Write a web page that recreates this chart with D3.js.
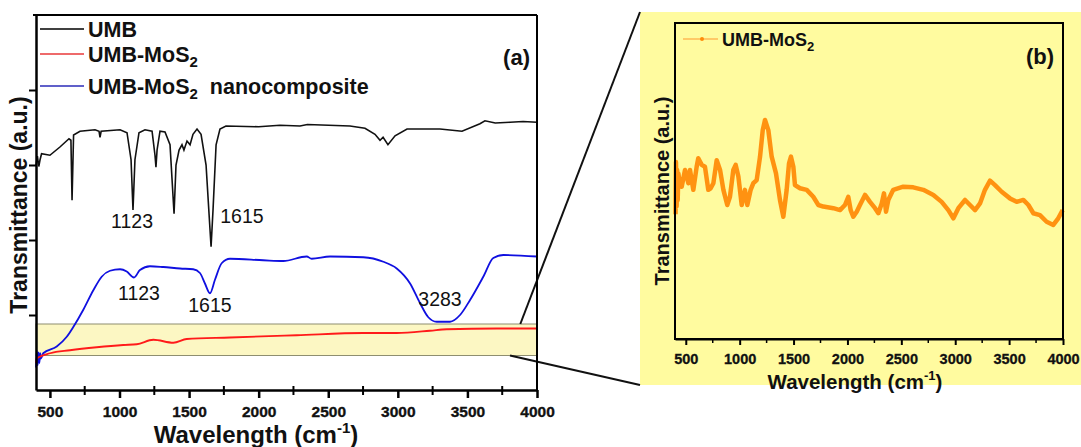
<!DOCTYPE html>
<html>
<head>
<meta charset="utf-8">
<script src="https://cdn.jsdelivr.net/npm/d3@7"></script>
<style>
  body { margin: 0; background: #fff; }
  svg text { font-family: "Liberation Sans", Arial, sans-serif; }
</style>
</head>
<body>
<svg id="chart" width="1081" height="447"></svg>
<script>
// ---- data ----
// panel (a): wavenumber (cm-1) and transmittance (a.u.)
var umbWave = [400, 410, 420, 429, 440, 500, 572, 637, 651, 659, 670, 716, 824, 853, 860, 868, 1004, 1054, 1083, 1097, 1111, 1140, 1183, 1234, 1255, 1262, 1270, 1291, 1327, 1363, 1392, 1406, 1428, 1449, 1463, 1485, 1507, 1528, 1557, 1586, 1622, 1644, 1658, 1672, 1694, 1722, 1765, 2000, 2153, 2297, 2350, 2656, 2764, 2836, 2872, 2894, 2929, 2980, 3066, 3303, 3461, 3590, 3626, 3700, 3806, 3900, 4000];
var umbT = [2.99, 3.12, 2.98, 3.07, 3.15, 3.13, 3.24, 3.35, 3.33, 2.53, 3.40, 3.45, 3.47, 3.45, 3.37, 3.45, 3.47, 3.43, 3.07, 2.40, 3.07, 3.43, 3.47, 3.45, 3.13, 2.97, 3.20, 3.45, 3.44, 3.27, 2.35, 3.00, 3.20, 3.27, 3.20, 3.32, 3.27, 3.41, 3.48, 3.41, 3.00, 2.33, 1.91, 2.40, 3.27, 3.48, 3.52, 3.51, 3.53, 3.52, 3.54, 3.52, 3.49, 3.41, 3.33, 3.37, 3.27, 3.39, 3.48, 3.48, 3.45, 3.55, 3.59, 3.56, 3.57, 3.58, 3.57];

var mos2Wave = [400, 405, 501, 644, 836, 1027, 1124, 1243, 1387, 1483, 1794, 2273, 2752, 2992, 3231, 3351, 3711, 4000];
var mos2T = [0.36, 0.42, 0.49, 0.53, 0.57, 0.60, 0.61, 0.67, 0.63, 0.68, 0.70, 0.73, 0.76, 0.76, 0.79, 0.81, 0.82, 0.82];

var nanoWave = [400, 406, 412, 418, 424, 430, 436, 452, 549, 621, 668, 740, 812, 872, 932, 1004, 1052, 1104, 1147, 1219, 1315, 1435, 1530, 1578, 1614, 1650, 1686, 1734, 1794, 2033, 2177, 2345, 2381, 2513, 2752, 2896, 2992, 3088, 3159, 3219, 3279, 3375, 3447, 3519, 3614, 3686, 3758, 4000];
var nanoT = [0.30, 0.52, 0.33, 0.50, 0.36, 0.49, 0.42, 0.49, 0.58, 0.71, 0.84, 1.07, 1.33, 1.51, 1.59, 1.61, 1.58, 1.50, 1.60, 1.65, 1.64, 1.62, 1.61, 1.56, 1.42, 1.29, 1.47, 1.69, 1.75, 1.73, 1.72, 1.78, 1.75, 1.78, 1.77, 1.71, 1.62, 1.42, 1.16, 0.97, 0.91, 0.91, 1.00, 1.20, 1.51, 1.76, 1.80, 1.78];

// panel (b): UMB-MoS2 zoomed
var zoomWave = [405, 409, 415, 420, 425, 431, 440, 462, 493, 524, 539, 570, 601, 616, 648, 678, 709, 731, 756, 787, 818, 849, 885, 910, 941, 963, 988, 1019, 1049, 1071, 1102, 1127, 1158, 1189, 1214, 1235, 1266, 1297, 1337, 1374, 1405, 1436, 1458, 1476, 1498, 1513, 1560, 1622, 1683, 1730, 1776, 1869, 1931, 1977, 2008, 2030, 2054, 2086, 2116, 2163, 2209, 2256, 2287, 2318, 2339, 2358, 2379, 2425, 2518, 2611, 2704, 2797, 2874, 2936, 2983, 3029, 3091, 3137, 3184, 3230, 3276, 3323, 3369, 3431, 3508, 3570, 3632, 3679, 3725, 3786, 3848, 3910, 3956, 3997];
var zoomT = [3.95, 5.60, 4.20, 5.35, 4.40, 5.24, 5.03, 4.82, 5.35, 4.93, 5.35, 4.72, 5.45, 5.72, 5.51, 5.45, 4.72, 4.77, 4.93, 5.66, 5.35, 4.72, 4.24, 4.50, 5.35, 5.51, 5.14, 4.24, 4.72, 4.24, 4.72, 4.93, 5.03, 5.77, 6.61, 6.93, 6.61, 5.77, 5.24, 4.40, 3.87, 4.72, 5.56, 5.77, 5.45, 4.87, 4.77, 4.72, 4.50, 4.24, 4.19, 4.14, 4.08, 4.24, 4.50, 4.08, 3.87, 4.03, 4.24, 4.56, 4.34, 4.14, 3.98, 4.29, 4.61, 4.03, 4.40, 4.72, 4.82, 4.80, 4.72, 4.56, 4.34, 4.08, 3.82, 4.14, 4.40, 4.24, 4.08, 4.29, 4.72, 5.01, 4.87, 4.66, 4.45, 4.34, 4.40, 4.24, 3.98, 3.92, 3.71, 3.61, 3.82, 4.08];

var xTickValues = [500, 1000, 1500, 2000, 2500, 3000, 3500, 4000];
var xMinorValues = [750, 1250, 1750, 2250, 2750, 3250, 3750];
var yTickValues = [1, 2, 3, 4];

var legendA = [
    { name: "UMB", sub: "", tail: "", color: "#000000" },
    { name: "UMB-MoS", sub: "2", tail: "", color: "#e8383a" },
    { name: "UMB-MoS", sub: "2", tail: "\u00a0\u00a0nanocomposite", color: "#2b2bb8" }
];

var peakLabels = [
    { text: "1123", w: 1090, t: 2.16 },
    { text: "1615", w: 1880, t: 2.23 },
    { text: "1123", w: 1140, t: 1.20 },
    { text: "1615", w: 1650, t: 1.04 },
    { text: "3283", w: 3303, t: 1.12 }
];

// highlighted band on panel (a) shown enlarged in panel (b)
var bandTop = 0.88, bandBottom = 0.46;

// ---- layout ----
var svg = d3.select("#chart");

var a = { left: 36, right: 537, top: 15, bottom: 390 };
var b = { left: 675, right: 1063, top: 23, bottom: 339 };
var inset = { left: 640, right: 1081, top: 12, bottom: 385 };

var xA = d3.scaleLinear().domain([400, 4000]).range([a.left, a.right]);
var yA = d3.scaleLinear().domain([0, 5]).range([a.bottom, a.top]);
var xB = d3.scaleLinear().domain([400, 4000]).range([b.left, b.right]);
var yB = d3.scaleLinear().domain([0, 10]).range([b.bottom, b.top]);

function pairs(ws, ts) { return ws.map(function (w, i) { return [w, ts[i]]; }); }

// inset background
svg.append("rect")
    .attr("x", inset.left).attr("y", inset.top)
    .attr("width", inset.right - inset.left).attr("height", inset.bottom - inset.top)
    .attr("fill", "#fffb9f");

// ---- panel (a) ----
svg.append("rect")
    .attr("x", a.left).attr("y", yA(bandTop))
    .attr("width", a.right - a.left).attr("height", yA(bandBottom) - yA(bandTop))
    .attr("fill", "#fcf7c3")
    .attr("stroke", "#8e8e70")
    .attr("stroke-width", 1);

// connector lines
svg.append("line")
    .attr("x1", xA(3880)).attr("y1", yA(bandTop))
    .attr("x2", inset.left).attr("y2", inset.top)
    .attr("stroke", "#111").attr("stroke-width", 2);
svg.append("line")
    .attr("x1", xA(3806)).attr("y1", yA(bandBottom))
    .attr("x2", inset.left).attr("y2", inset.bottom)
    .attr("stroke", "#111").attr("stroke-width", 2);

var lineA = d3.line().x(function (d) { return xA(d[0]); }).y(function (d) { return yA(d[1]); });
var smoothA = d3.line().curve(d3.curveMonotoneX)
    .x(function (d) { return xA(d[0]); }).y(function (d) { return yA(d[1]); });

svg.append("path").datum(pairs(umbWave, umbT))
    .attr("d", lineA).attr("fill", "none").attr("stroke", "#111").attr("stroke-width", 1.6);
svg.append("path").datum(pairs(nanoWave, nanoT))
    .attr("d", smoothA).attr("fill", "none").attr("stroke", "#1010e0").attr("stroke-width", 1.8);
svg.append("path").datum(pairs(mos2Wave, mos2T))
    .attr("d", smoothA).attr("fill", "none").attr("stroke", "#ff1a1a").attr("stroke-width", 1.8);

// frame
svg.append("line").attr("x1", a.left - 3).attr("x2", a.right).attr("y1", a.top).attr("y2", a.top)
    .attr("stroke", "#000").attr("stroke-width", 2);
svg.append("line").attr("x1", a.right).attr("x2", a.right).attr("y1", a.top).attr("y2", a.bottom)
    .attr("stroke", "#000").attr("stroke-width", 2);

// tick labels drawn by hand-styled axis; font set on the axis group itself
var xAxisA = svg.append("g")
    .attr("transform", "translate(0," + a.bottom + ")")
    .call(d3.axisBottom(xA).tickValues(xTickValues).tickSize(8).tickSizeOuter(0).tickFormat(d3.format("d")));
xAxisA.attr("font-family", "Liberation Sans, Arial, sans-serif").attr("font-size", 15.5).attr("font-weight", "bold");
xAxisA.select(".domain").attr("stroke-width", 2.5);
xAxisA.selectAll(".tick line").attr("stroke-width", 2.5);
xAxisA.selectAll(".tick text")
    .attr("fill", "#111").attr("stroke", "#111").attr("stroke-width", 0.35).attr("dy", "1.05em");
svg.append("g").selectAll("line").data(xMinorValues).enter().append("line")
    .attr("x1", xA).attr("x2", xA)
    .attr("y1", a.bottom - 4).attr("y2", a.bottom + 5)
    .attr("stroke", "#000").attr("stroke-width", 2);

var yAxisA = svg.append("g")
    .attr("transform", "translate(" + a.left + ",0)")
    .call(d3.axisLeft(yA).tickValues(yTickValues).tickSize(7).tickSizeOuter(0).tickFormat(""));
yAxisA.select(".domain").attr("stroke-width", 2.5);
yAxisA.selectAll(".tick line").attr("stroke-width", 2);

// axis titles (a)
var tA = svg.append("text")
    .attr("x", 256).attr("y", 443)
    .attr("text-anchor", "middle")
    .attr("font-size", 24).attr("font-weight", "bold").attr("fill", "#111")
    .text("Wavelength (cm");
tA.append("tspan").attr("font-size", 15).attr("dy", -10).text("-1");
tA.append("tspan").attr("dy", 10).text(")");

svg.append("text")
    .attr("transform", "translate(27,205) rotate(-90)")
    .attr("text-anchor", "middle")
    .attr("font-size", 23).attr("font-weight", "bold").attr("fill", "#111")
    .text("Transmittance (a.u.)");

// legend (a)
var legA = svg.append("g").selectAll("g").data(legendA).enter().append("g")
    .attr("transform", function (d, i) { return "translate(0," + [29, 54, 86][i] + ")"; });
legA.append("line")
    .attr("x1", 40).attr("x2", 84).attr("y1", 0).attr("y2", 0)
    .attr("stroke", function (d) { return d.color; }).attr("stroke-width", 1.5);
var legAText = legA.append("text")
    .attr("x", 88).attr("y", 8)
    .attr("font-size", 21.5).attr("font-weight", "bold").attr("fill", "#111")
    .text(function (d) { return d.name; });
legAText.append("tspan").attr("font-size", 15).attr("dy", 5).text(function (d) { return d.sub; });
legAText.append("tspan").attr("dy", -5).text(function (d) { return d.tail; });

svg.append("text")
    .attr("x", 530).attr("y", 65).attr("text-anchor", "end")
    .attr("font-size", 22).attr("font-weight", "bold").attr("fill", "#111")
    .text("(a)");

svg.append("g").selectAll("text").data(peakLabels).enter().append("text")
    .attr("x", function (d) { return xA(d.w); })
    .attr("y", function (d) { return yA(d.t); })
    .attr("text-anchor", "middle")
    .attr("font-size", 19.5).attr("fill", "#111")
    .text(function (d) { return d.text; });

// ---- panel (b) ----
var lineB = d3.line().x(function (d) { return xB(d[0]); }).y(function (d) { return yB(d[1]); });
svg.append("path").datum(pairs(zoomWave, zoomT))
    .attr("d", lineB).attr("fill", "none")
    .attr("stroke", "#ff8c0a").attr("stroke-width", 4.5)
    .attr("stroke-linejoin", "round").attr("stroke-opacity", 0.95);

svg.append("rect")
    .attr("x", b.left).attr("y", b.top)
    .attr("width", b.right - b.left).attr("height", b.bottom - b.top)
    .attr("fill", "none").attr("stroke", "#000").attr("stroke-width", 2);

var xAxisB = svg.append("g")
    .attr("transform", "translate(0," + b.bottom + ")")
    .call(d3.axisBottom(xB).tickValues(xTickValues).tickSize(6).tickSizeOuter(0).tickFormat(d3.format("d")));
xAxisB.attr("font-family", "Liberation Sans, Arial, sans-serif").attr("font-size", 14.5).attr("font-weight", "bold");
xAxisB.select(".domain").attr("stroke-width", 2);
xAxisB.selectAll(".tick line").attr("stroke-width", 2);
xAxisB.selectAll(".tick text")
    .attr("fill", "#111").attr("stroke", "#111").attr("stroke-width", 0.3).attr("dy", "1.1em");
svg.append("g").selectAll("line").data(xMinorValues).enter().append("line")
    .attr("x1", xB).attr("x2", xB)
    .attr("y1", b.bottom).attr("y2", b.bottom + 4)
    .attr("stroke", "#000").attr("stroke-width", 1.5);

var tB = svg.append("text")
    .attr("x", 855).attr("y", 389)
    .attr("text-anchor", "middle")
    .attr("font-size", 20.5).attr("font-weight", "bold").attr("fill", "#111")
    .text("Wavelength (cm");
tB.append("tspan").attr("font-size", 13).attr("dy", -9).text("-1");
tB.append("tspan").attr("dy", 9).text(")");

svg.append("text")
    .attr("transform", "translate(669,191) rotate(-90)")
    .attr("text-anchor", "middle")
    .attr("font-size", 20).attr("font-weight", "bold").attr("fill", "#111")
    .text("Transmittance (a.u.)");

// legend (b)
svg.append("line")
    .attr("x1", 683).attr("x2", 718).attr("y1", 39).attr("y2", 39)
    .attr("stroke", "#ff9a30").attr("stroke-width", 1.2);
svg.append("circle").attr("cx", 702).attr("cy", 39).attr("r", 2).attr("fill", "#ff8c0a");
var legB = svg.append("text")
    .attr("x", 722).attr("y", 46)
    .attr("font-size", 18).attr("font-weight", "bold").attr("fill", "#111")
    .text("UMB-MoS");
legB.append("tspan").attr("font-size", 13).attr("dy", 5).text("2");

svg.append("text")
    .attr("x", 1054).attr("y", 64).attr("text-anchor", "end")
    .attr("font-size", 22).attr("font-weight", "bold").attr("fill", "#111")
    .text("(b)");
</script>
</body>
</html>
